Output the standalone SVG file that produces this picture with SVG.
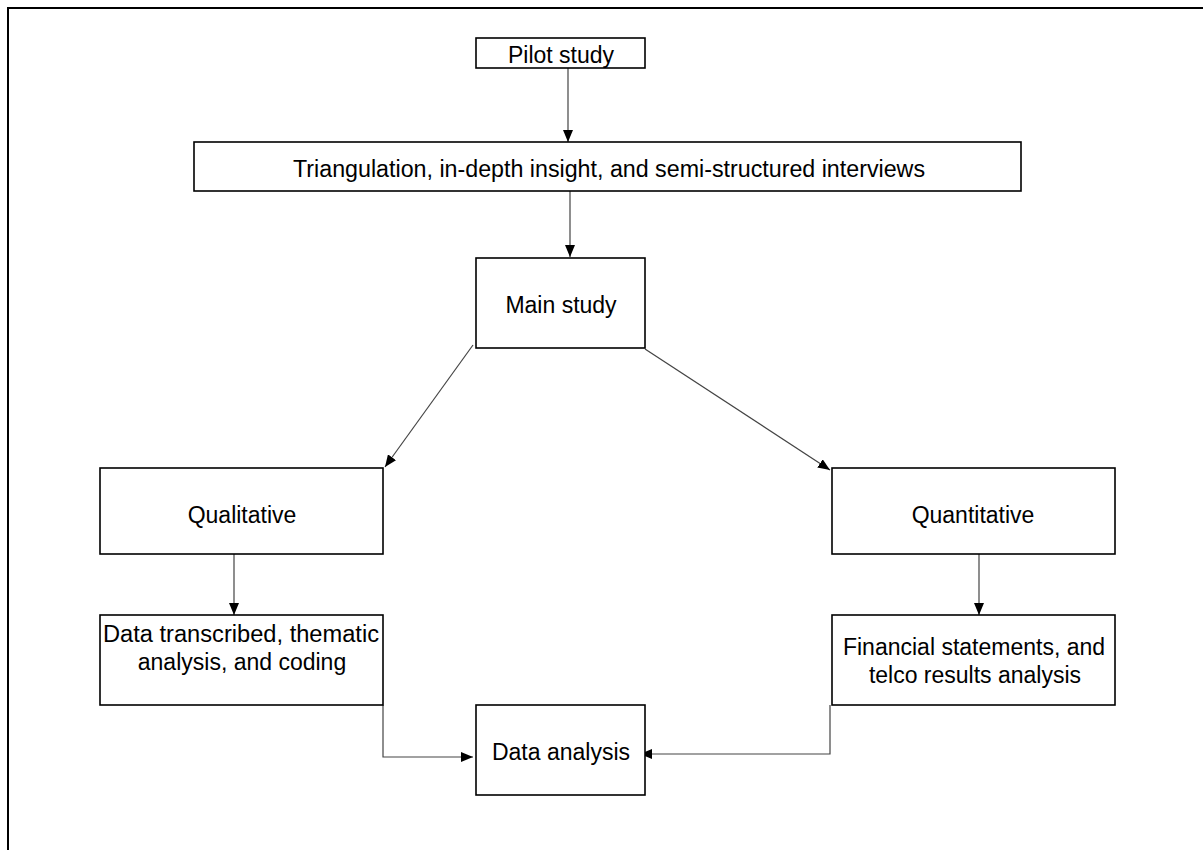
<svg xmlns="http://www.w3.org/2000/svg" width="1203" height="850" viewBox="0 0 1203 850">
  <defs>
    <marker id="arrow" viewBox="0 0 12 10" refX="12" refY="5" markerWidth="12" markerHeight="10" markerUnits="userSpaceOnUse" orient="auto">
      <path d="M0,0 L12,5 L0,10 z" fill="#000"/>
    </marker>
  </defs>
  <style>
    .box { fill: #fff; stroke: #000; stroke-width: 1.6; }
    .label { font-family: "Liberation Sans", Arial, sans-serif; font-size: 23px; fill: #000; text-anchor: middle; }
    .edge { fill: none; stroke: #444; stroke-width: 1.2; marker-end: url(#arrow); }
    .frame { fill: none; stroke: #000; stroke-width: 2; }
  </style>
  <rect width="1203" height="850" fill="#fff"/>

  <!-- page frame: top and left rules only -->
  <path class="frame" d="M8,850 V8 H1203"/>

  <!-- connectors -->
  <g id="connectors">
    <line class="edge" x1="568" y1="68" x2="568" y2="142"/>
    <line class="edge" x1="570" y1="178" x2="570" y2="257"/>
    <line class="edge" x1="473" y1="345" x2="385" y2="467"/>
    <line class="edge" x1="645" y1="349" x2="830" y2="470"/>
    <line class="edge" x1="234" y1="554" x2="234" y2="615"/>
    <line class="edge" x1="979" y1="554" x2="979" y2="615"/>
    <polyline class="edge" points="383,705 383,757 473,757"/>
    <polyline class="edge" points="830,705 830,754 640,754"/>
  </g>

  <g id="pilot-study">
    <rect class="box" x="476" y="38" width="169" height="30"/>
    <text class="label" x="561" y="63">Pilot study</text>
  </g>

  <g id="triangulation">
    <rect class="box" x="194" y="142" width="827" height="49"/>
    <text class="label" x="609" y="177" textLength="632" lengthAdjust="spacingAndGlyphs">Triangulation, in-depth insight, and semi-structured interviews</text>
  </g>

  <g id="main-study">
    <rect class="box" x="476" y="258" width="169" height="90"/>
    <text class="label" x="561" y="313">Main study</text>
  </g>

  <g id="qualitative">
    <rect class="box" x="100" y="468" width="283" height="86"/>
    <text class="label" x="242" y="523">Qualitative</text>
  </g>

  <g id="quantitative">
    <rect class="box" x="832" y="468" width="283" height="86"/>
    <text class="label" x="973" y="523">Quantitative</text>
  </g>

  <g id="data-transcribed">
    <rect class="box" x="100" y="615" width="283" height="90"/>
    <text class="label" x="241" y="642" textLength="276" lengthAdjust="spacingAndGlyphs">Data transcribed, thematic</text>
    <text class="label" x="242" y="670">analysis, and coding</text>
  </g>

  <g id="financial-statements">
    <rect class="box" x="832" y="615" width="283" height="90"/>
    <text class="label" x="974" y="655">Financial statements, and</text>
    <text class="label" x="975" y="683">telco results analysis</text>
  </g>

  <g id="data-analysis">
    <rect class="box" x="476" y="705" width="169" height="90"/>
    <text class="label" x="561" y="760">Data analysis</text>
  </g>
</svg>
